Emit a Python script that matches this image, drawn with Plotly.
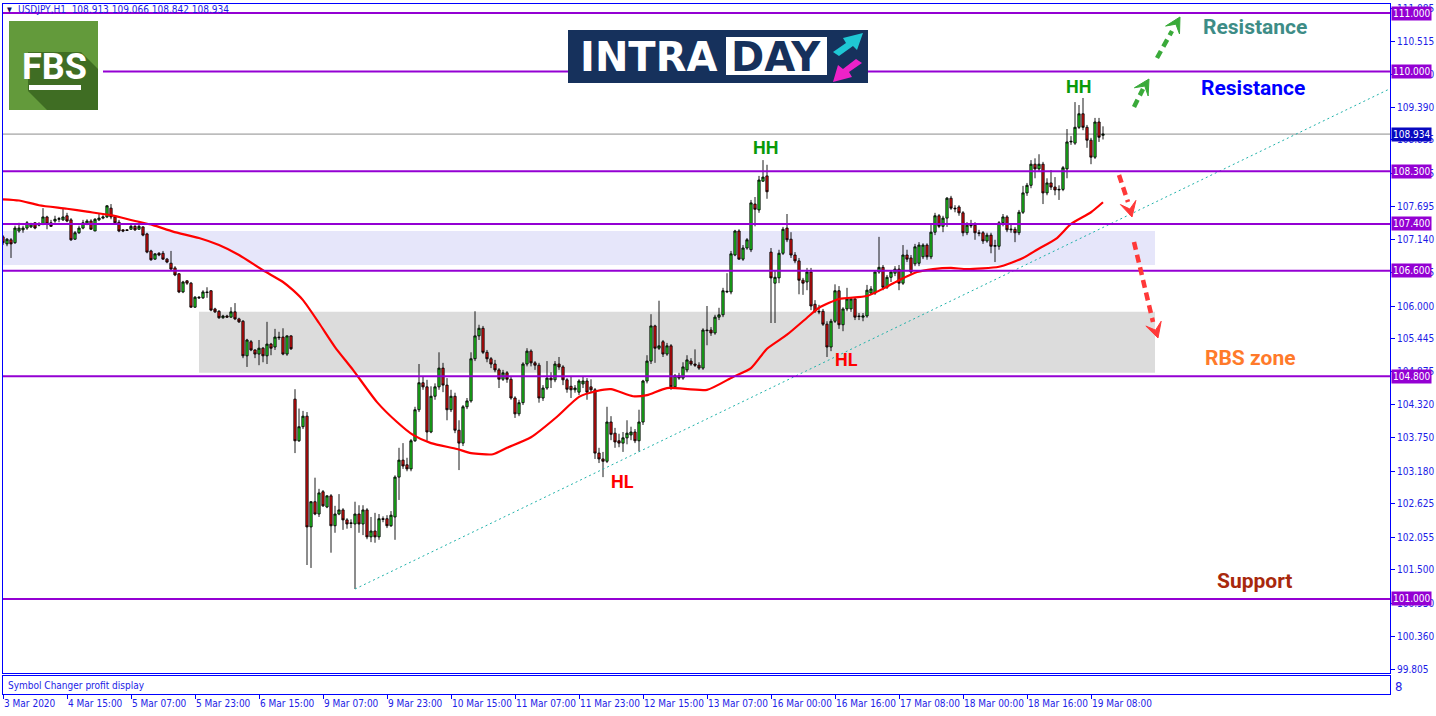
import plotly.graph_objects as go
from plotly.subplots import make_subplots

# ---------------- DATA ----------------
bar_index = list(range(276))
opens = [107.18,107.06,107.13,107.08,107.28,107.30,107.33,107.35,107.42,107.38,
107.40,107.52,107.42,107.45,107.48,107.47,107.54,107.47,107.14,107.25,
107.33,107.40,107.45,107.28,107.47,107.50,107.52,107.67,107.52,107.43,
107.30,107.30,107.31,107.36,107.31,107.35,107.23,106.94,106.80,106.90,
106.90,106.80,106.73,106.65,106.55,106.24,106.43,106.39,105.98,106.15,
106.14,106.24,106.26,105.95,105.91,105.80,105.83,105.81,105.90,105.78,
105.74,105.15,105.39,105.25,105.18,105.28,105.15,105.35,105.30,105.47,
105.47,105.18,105.49,104.41,103.70,103.94,104.12,102.23,102.66,102.45,
102.83,102.57,102.76,102.25,102.45,102.52,102.35,102.30,102.28,102.45,
102.28,102.52,102.06,102.16,102.06,102.37,102.37,102.25,102.40,103.08,
103.37,103.29,103.22,103.70,104.23,104.69,104.62,103.85,104.46,104.62,
104.94,104.65,104.23,104.46,103.88,103.66,104.28,104.38,105.10,105.49,
105.62,105.21,105.10,105.01,104.91,104.75,104.86,104.75,104.43,104.16,
104.35,105.01,105.23,105.03,104.99,104.43,104.60,104.77,104.74,105.01,
104.96,104.74,104.63,104.57,104.53,104.67,104.72,104.62,104.57,103.49,
103.39,103.35,104.02,103.83,103.70,103.66,103.75,103.80,103.85,103.70,
104.02,104.72,105.06,105.66,105.28,105.39,105.18,105.32,104.62,104.81,
104.77,104.91,105.06,105.01,104.99,104.94,105.59,105.59,105.54,105.81,
105.85,106.24,106.24,106.87,107.28,106.80,106.99,106.96,107.74,107.64,
108.13,108.22,106.92,106.39,106.48,106.90,107.33,107.14,106.87,106.77,
106.44,106.41,106.58,106.03,105.91,105.91,105.69,105.30,105.74,106.26,
105.68,105.95,105.95,106.12,105.83,105.81,105.83,106.22,106.22,106.58,
106.66,106.32,106.49,106.56,106.63,106.39,106.87,106.82,106.72,106.73,
106.84,107.04,106.84,107.26,107.54,107.36,107.50,107.84,107.67,107.69,
107.59,107.25,107.38,107.38,107.25,107.25,107.11,107.21,107.02,107.02,
107.42,107.52,107.30,107.31,107.25,107.60,107.93,108.06,108.42,108.34,
108.42,107.93,108.10,108.03,107.98,107.99,108.34,108.80,108.78,109.05,
109.28,109.05,108.83,108.54,109.14,108.913]
highs = [107.21,107.16,107.16,107.37,107.42,107.37,107.45,107.42,107.43,107.43,
107.67,107.54,107.47,107.54,107.52,107.66,107.59,107.50,107.28,107.37,
107.47,107.48,107.48,107.50,107.57,107.55,107.72,107.74,107.54,107.47,
107.31,107.31,107.40,107.38,107.43,107.36,107.25,106.96,106.90,106.92,
106.94,106.82,106.94,106.68,106.56,106.43,106.44,106.41,106.17,106.17,
106.27,106.32,106.27,105.97,105.93,105.85,105.85,105.98,106.05,105.80,
105.76,105.44,105.42,105.26,105.42,105.30,105.73,105.37,105.61,105.56,
105.62,105.50,105.50,104.58,104.25,104.21,104.19,102.67,103.07,102.88,
102.86,102.77,102.79,102.59,102.79,102.55,102.38,102.36,102.66,102.60,
102.60,102.55,102.40,102.47,102.45,102.41,102.43,102.50,103.11,103.58,
103.66,103.41,103.73,104.28,105.01,104.79,104.74,104.63,104.68,105.21,
105.03,104.77,104.57,104.52,104.05,104.31,104.43,105.21,105.91,105.68,
105.66,105.25,105.13,105.08,104.94,104.91,104.89,104.79,104.46,104.40,
105.04,105.28,105.26,105.06,105.03,104.65,105.06,104.87,105.06,105.13,
104.99,104.77,104.79,104.65,104.75,104.79,104.77,104.75,104.60,103.58,
103.51,104.28,104.12,103.92,103.82,103.85,104.05,103.94,103.90,104.23,
104.74,105.16,105.86,105.68,106.09,105.42,105.37,105.35,104.84,104.86,
105.04,105.16,105.11,105.26,105.04,105.62,106.00,105.64,105.85,105.97,
106.31,106.56,106.94,107.30,107.31,107.04,107.16,107.81,107.86,108.22,
108.49,108.41,106.99,106.61,106.96,107.35,107.57,107.26,106.92,106.82,
106.48,106.65,106.65,106.10,106.02,105.95,105.74,105.78,106.37,106.34,
105.98,106.31,106.15,106.15,105.88,105.88,106.36,106.34,106.61,107.18,
106.70,106.53,106.61,106.68,106.70,107.04,106.96,106.87,107.06,107.09,
107.07,107.07,107.40,107.59,107.57,107.54,107.86,107.88,107.72,107.72,
107.62,107.43,107.47,107.43,107.30,107.28,107.25,107.25,107.13,107.45,
107.57,107.55,107.40,107.35,107.64,108.05,108.10,108.49,108.52,108.59,
108.46,108.18,108.32,108.20,108.06,108.39,109.02,108.90,109.48,109.43,
109.55,109.09,108.87,109.21,109.21,109.066]
lows = [107.04,107.02,106.82,107.06,107.25,107.25,107.30,107.33,107.31,107.36,
107.38,107.31,107.35,107.42,107.43,107.45,107.43,107.11,107.13,107.23,
107.31,107.38,107.30,107.28,107.45,107.48,107.50,107.48,107.40,107.26,
107.26,107.28,107.30,107.28,107.30,107.19,106.90,106.77,106.79,106.85,
106.79,106.73,106.61,106.51,106.22,106.22,106.36,105.97,105.97,106.12,
106.12,106.14,105.91,105.88,105.78,105.78,105.80,105.80,105.76,105.71,
105.11,104.96,105.23,105.11,104.99,105.04,105.01,105.16,105.25,105.42,
105.16,105.15,105.25,103.49,103.68,103.90,101.58,101.53,102.43,102.40,
102.57,102.55,101.79,102.13,102.43,102.18,102.20,102.21,101.17,102.13,
102.09,102.02,101.97,101.96,102.01,102.31,102.21,102.23,102.01,102.69,
103.22,103.18,103.18,103.68,104.19,104.57,103.70,103.83,104.40,104.57,
104.53,104.05,104.19,103.83,103.20,103.61,104.24,104.35,105.06,105.42,
105.18,105.04,104.94,104.87,104.60,104.72,104.69,104.40,104.09,104.12,
104.31,104.97,104.97,104.91,104.35,104.38,104.57,104.60,104.70,104.91,
104.65,104.52,104.43,104.52,104.48,104.60,104.40,104.53,103.39,103.32,
103.08,103.32,103.71,103.58,103.59,103.51,103.64,103.71,103.66,103.52,
103.97,104.68,105.01,105.03,105.25,105.13,105.15,104.57,104.60,104.74,
104.74,104.87,104.98,104.96,104.91,104.91,105.33,105.49,105.51,105.76,
105.81,106.22,106.20,106.85,106.79,106.77,106.96,106.92,107.36,107.59,
108.12,107.83,105.71,105.71,106.39,106.87,107.09,106.82,106.73,106.20,
106.19,106.27,105.93,105.88,105.86,105.66,105.13,105.23,105.71,105.61,
105.57,105.91,105.90,105.76,105.76,105.74,105.80,106.19,106.19,106.55,
106.27,106.29,106.41,106.51,106.27,106.36,106.75,106.53,106.68,106.68,
106.80,106.79,106.80,107.21,107.33,107.26,107.35,107.64,107.60,107.54,
107.19,107.21,107.33,107.13,107.19,107.06,107.08,106.90,106.75,106.96,
107.36,107.26,107.25,107.09,107.21,107.57,107.88,108.01,108.18,108.29,
107.74,107.89,107.98,107.89,107.81,107.96,108.18,108.75,108.75,109.02,
109.00,108.70,108.42,108.51,108.80,108.842]
closes = [107.08,107.14,107.06,107.33,107.33,107.33,107.42,107.40,107.33,107.40,
107.52,107.40,107.36,107.48,107.49,107.52,107.45,107.13,107.25,107.33,
107.42,107.45,107.31,107.48,107.50,107.52,107.71,107.52,107.42,107.28,
107.28,107.29,107.36,107.30,107.36,107.21,106.92,106.79,106.89,106.87,
106.80,106.75,106.63,106.53,106.24,106.41,106.39,105.98,106.15,106.14,
106.24,106.23,105.93,105.90,105.80,105.83,105.81,105.90,105.78,105.73,
105.15,105.42,105.25,105.18,105.28,105.15,105.35,105.28,105.47,105.46,
105.18,105.49,105.27,103.70,103.94,104.12,102.23,102.66,102.45,102.81,
102.59,102.76,102.25,102.45,102.52,102.35,102.28,102.29,102.45,102.28,
102.52,102.06,102.16,102.06,102.37,102.36,102.25,102.43,103.08,103.37,
103.27,103.22,103.70,104.23,104.69,104.62,103.85,104.46,104.62,104.94,
104.65,104.23,104.46,103.88,103.66,104.28,104.38,105.10,105.49,105.62,
105.21,105.10,105.01,104.91,104.75,104.86,104.75,104.43,104.16,104.35,
105.01,105.23,105.03,104.99,104.43,104.60,104.77,104.74,105.01,104.96,
104.74,104.58,104.57,104.60,104.72,104.72,104.53,104.57,103.49,103.39,
103.35,104.02,103.81,103.68,103.66,103.75,103.83,103.85,103.70,104.02,
104.72,105.06,105.66,105.28,105.32,105.18,105.32,104.62,104.81,104.77,
104.96,105.08,105.01,104.99,104.94,105.59,105.58,105.54,105.81,105.85,
106.26,106.25,106.89,107.28,106.80,106.99,107.13,107.76,107.65,108.15,
108.20,107.95,106.48,106.49,106.90,107.31,107.13,106.87,106.77,106.44,
106.39,106.58,106.00,105.91,105.90,105.69,105.30,105.74,106.26,105.68,
105.95,106.12,106.12,105.81,105.82,105.83,106.27,106.29,106.58,106.66,
106.32,106.49,106.58,106.63,106.39,106.87,106.80,106.58,107.01,107.04,
107.04,106.84,107.26,107.54,107.36,107.50,107.84,107.67,107.66,107.59,
107.25,107.38,107.37,107.25,107.24,107.11,107.21,107.02,107.03,107.42,
107.52,107.30,107.31,107.25,107.60,107.93,108.06,108.42,108.34,108.42,
107.93,108.10,108.03,107.98,107.99,108.36,108.80,108.81,109.05,109.28,
109.05,108.83,108.54,109.14,108.88,108.934]

# moving average (bar index, price)
ma_x = [0,4,9,16,21,27,32.5,37.5,42.5,49,54,59,65,70,72.5,75,79,83,87.5,93.5,98.5,
        102.5,107,113.5,117,122.5,126,132,138.5,144,148.5,152,157.5,161,166,176,
        182.5,187,191,196,201,204,209,216,221,224,228.5,232.5,237,241,249,255,
        258.5,263.5,267,272,275]
ma_y = [107.82,107.80,107.72,107.66,107.61,107.55,107.46,107.38,107.27,107.16,
        107.04,106.87,106.61,106.41,106.27,106.10,105.71,105.30,104.91,104.36,104.02,
        103.80,103.66,103.56,103.49,103.47,103.58,103.76,104.11,104.45,104.55,
        104.58,104.46,104.48,104.60,104.57,104.79,104.94,105.27,105.51,105.80,
        105.97,106.12,106.17,106.33,106.44,106.58,106.63,106.65,106.63,106.67,
        106.82,106.96,107.16,107.40,107.60,107.77]

# trend line (bar index, price)
trend_x = [88, 346.5]
trend_y = [101.17, 109.70]

# horizontal levels
level_prices = [111.0, 110.0, 108.3, 107.4, 106.6, 104.8, 101.0]
level_start = [0, 25, 0, 0, 0, 0, 0]
current_price = 108.934

# zones: (x0, x1, y0, y1)
zone_lav = (0, 288, 106.70, 107.28)
zone_gray = (49, 288, 104.86, 105.90)

# axis ticks
price_ticks = [111.085, 110.515, 109.950, 109.390, 108.835, 108.265, 107.695, 107.140,
               106.575, 106.000, 105.445, 104.875, 104.320, 103.750, 103.180, 102.625,
               102.055, 101.500, 100.930, 100.360, 99.805]
time_tick_idx = [0,16,32,48,64,80,96,112,128,144,160,176,192,208,224,240,256,272]
time_tick_text = ["3 Mar 2020","4 Mar 15:00","5 Mar 07:00","5 Mar 23:00","6 Mar 15:00",
                  "9 Mar 07:00","9 Mar 23:00","10 Mar 15:00","11 Mar 07:00","11 Mar 23:00",
                  "12 Mar 15:00","13 Mar 07:00","16 Mar 00:00","16 Mar 16:00","17 Mar 08:00",
                  "18 Mar 00:00","18 Mar 16:00","19 Mar 08:00"]

# ---------------- STYLE ----------------
W, H = 1436, 716
ML, MR, MT, MB = 3, 46, 4, 22
PW, PH = W - ML - MR, H - MT - MB
BLUE = "#0000ff"
TXT = "#1c1ce6"
PURPLE = "#9400d3"
AXFONT = "DejaVu Sans Condensed, Liberation Sans, sans-serif"
LBLFONT = "Roboto, Liberation Sans, sans-serif"


def px(x):
    return (x - ML) / PW


def py(y):
    return (H - MB - y) / PH


fig = make_subplots(rows=2, cols=1, shared_xaxes=True, vertical_spacing=0.0)

fig.add_trace(go.Candlestick(
    x=bar_index, open=opens, high=highs, low=lows, close=closes,
    increasing=dict(fillcolor="#22e022", line=dict(color="black", width=0.9)),
    decreasing=dict(fillcolor="#e81010", line=dict(color="black", width=0.9)),
    whiskerwidth=0, hoverinfo="skip", showlegend=False), row=1, col=1)

fig.add_trace(go.Scatter(x=ma_x, y=ma_y, mode="lines",
                         line=dict(color="#ff0000", width=2.2, shape="spline", smoothing=0.6),
                         hoverinfo="skip", showlegend=False), row=1, col=1)
fig.add_trace(go.Scatter(x=trend_x, y=trend_y, mode="lines",
                         line=dict(color="#20b2aa", width=1, dash="2px,3px"),
                         hoverinfo="skip", showlegend=False), row=1, col=1)
fig.add_trace(go.Scatter(x=[0], y=[0.5], mode="markers", marker=dict(opacity=0),
                         hoverinfo="skip", showlegend=False), row=2, col=1)

shapes = []
# zones
for (x0, x1, y0, y1), col in [(zone_lav, "#e6e6fa"), (zone_gray, "#dcdcdc")]:
    shapes.append(dict(type="rect", xref="x", yref="y", x0=x0, x1=x1, y0=y0, y1=y1,
                       fillcolor=col, line=dict(width=0), layer="below"))
# current price line
shapes.append(dict(type="line", xref="x domain", yref="y", x0=0, x1=1, y0=current_price,
                   y1=current_price, line=dict(color="#8c8c8c", width=1), layer="below"))
# levels
for p, s in zip(level_prices, level_start):
    shapes.append(dict(type="line", xref="x", yref="y", x0=s, x1=346.75, y0=p, y1=p,
                       line=dict(color=PURPLE, width=2), layer="above"))


def P(pts):
    return "M " + " L ".join(f"{px(a):.5f},{py(b):.5f}" for a, b in pts) + " Z"


def dashed_arrow(p0, p1, tip, color, width=4.5, L=15, Wd=8):
    shapes.append(dict(type="line", xref="paper", yref="paper", x0=px(p0[0]), y0=py(p0[1]),
                       x1=px(p1[0]), y1=py(p1[1]),
                       line=dict(color=color, width=width, dash="8px,5px")))
    dx, dy = tip[0] - p1[0], tip[1] - p1[1]
    n = (dx * dx + dy * dy) ** 0.5
    ux, uy = dx / n, dy / n
    nx, ny = -uy, ux
    bx, by = tip[0] - L * ux, tip[1] - L * uy
    nxp = tip[0] - 0.55 * L * ux
    nyp = tip[1] - 0.55 * L * uy
    pts = [tip, (bx + Wd * nx, by + Wd * ny), (nxp, nyp), (bx - Wd * nx, by - Wd * ny)]
    shapes.append(dict(type="path", xref="paper", yref="paper", path=P(pts),
                       fillcolor=color, line=dict(color=color, width=1)))


dashed_arrow((1134, 107), (1143, 89), (1149, 79), "#3aaa3a")
dashed_arrow((1157, 58), (1172, 31), (1180, 17), "#3aaa3a")
dashed_arrow((1119, 175), (1128, 202), (1132, 217), "#ff3838")
dashed_arrow((1134, 242), (1153, 322), (1158, 338), "#ff3838")

# FBS logo
shapes.append(dict(type="rect", xref="paper", yref="paper", x0=px(9), x1=px(98), y0=py(110),
                   y1=py(21), fillcolor="#639a3b", line=dict(width=0)))
shapes.append(dict(type="path", xref="paper", yref="paper",
                   path=P([(28, 52), (81, 52), (98, 69), (98, 110), (47, 110), (28, 91)]),
                   fillcolor="#3f6d23", line=dict(width=0)))
shapes.append(dict(type="rect", xref="paper", yref="paper", x0=px(29), x1=px(81), y0=py(90),
                   y1=py(85), fillcolor="white", line=dict(width=0)))
# INTRADAY logo
shapes.append(dict(type="rect", xref="paper", yref="paper", x0=px(568), x1=px(868), y0=py(83),
                   y1=py(30), fillcolor="#16315c", line=dict(width=0)))
shapes.append(dict(type="rect", xref="paper", yref="paper", x0=px(726), x1=px(827), y0=py(75),
                   y1=py(37), fillcolor="white", line=dict(width=0)))
shapes.append(dict(type="path", xref="paper", yref="paper",
                   path=P([(833, 52), (846, 43), (843, 38), (863, 33), (857, 50), (853, 46), (839, 56)]),
                   fillcolor="#1fc7d4", line=dict(width=0)))
shapes.append(dict(type="path", xref="paper", yref="paper",
                   path=P([(862, 63), (849, 72), (852, 77), (833, 82), (838, 65), (843, 69), (856, 59)]),
                   fillcolor="#ee22c8", line=dict(width=0)))

annotations = []
# purple level labels on axis
for p in level_prices:
    annotations.append(dict(x=1, xref="paper", xanchor="left", xshift=1, y=p, yref="y",
                            yanchor="middle", text=f"{p:.3f}", showarrow=False,
                            bgcolor=PURPLE, borderpad=1,
                            font=dict(color="white", size=10, family=AXFONT)))
annotations.append(dict(x=1, xref="paper", xanchor="left", xshift=1, y=current_price, yref="y",
                        yanchor="middle", text=f"{current_price:.3f}", showarrow=False,
                        bgcolor="#0808c0", borderpad=1,
                        font=dict(color="white", size=10, family=AXFONT)))


# chart labels
def lbl(x, y, text, color, size, family=LBLFONT):
    annotations.append(dict(x=x, y=y, xref="x", yref="y", text=text, showarrow=False,
                            xanchor="center", yanchor="middle",
                            font=dict(color=color, size=size, family=family, weight="bold")))


lbl(190.5, 108.71, "HH", "#0a9a0a", 18)
lbl(268.75, 109.74, "HH", "#0a9a0a", 18)
lbl(154.75, 103.01, "HL", "#ff0000", 18)
lbl(210.75, 105.08, "HL", "#ff0000", 18)
lbl(313.0, 110.76, "Resistance", "#3d8c86", 21)
lbl(312.5, 109.72, "Resistance", "#0000ff", 21)
lbl(311.75, 105.11, "RBS zone", "#ff7a2a", 21)
lbl(312.75, 101.31, "Support", "#a8280c", 21)


def ptext(x, y, text, color, size, family, xanchor="left", weight="normal"):
    annotations.append(dict(x=px(x), y=py(y), xref="paper", yref="paper", xanchor=xanchor,
                            yanchor="middle", text=text, showarrow=False,
                            font=dict(color=color, size=size, family=family, weight=weight)))


# header / sub-window texts
ptext(5, 10, "▼", "#101060", 7, AXFONT)
ptext(16, 10, "USDJPY,H1  108.913 109.066 108.842 108.934", TXT, 10, AXFONT)
ptext(6, 685, "Symbol Changer profit display", TXT, 10, AXFONT)
ptext(1393, 686, "8", TXT, 13, AXFONT)
# logo texts
ptext(54, 67, "FBS", "white", 36, "Roboto, sans-serif", "center", "bold")
ptext(648, 57, "INTRA", "white", 40, "DejaVu Sans, sans-serif", "center", "bold")
ptext(776, 57, "DAY", "#16315c", 40, "DejaVu Sans, sans-serif", "center", "bold")

axis_common = dict(showgrid=False, zeroline=False, showline=True, mirror=True,
                   linecolor=BLUE, linewidth=1)

fig.update_layout(
    width=W, height=H, autosize=False,
    margin=dict(l=ML, r=MR, t=MT, b=MB, pad=0, autoexpand=False),
    paper_bgcolor="white", plot_bgcolor="white",
    showlegend=False, boxgap=0.2, hovermode=False,
    shapes=shapes, annotations=annotations,
    xaxis=dict(**axis_common, range=[0, 346.75], showticklabels=False, ticks="",
               rangeslider=dict(visible=False), domain=[0, 1]),
    xaxis2=dict(**axis_common, range=[0, 346.75], ticks="outside", ticklen=4,
                tickcolor=BLUE, tickvals=time_tick_idx, ticktext=time_tick_text,
                ticklabelposition="outside right", tickangle=0,
                tickfont=dict(color=TXT, size=10, family=AXFONT),
                rangeslider=dict(visible=False), domain=[0, 1]),
    yaxis=dict(**axis_common, domain=[21 / PH, 1], range=[99.737, 111.154], side="right",
               ticks="outside", ticklen=4, tickcolor=BLUE, tickvals=price_ticks,
               ticktext=[f"{v:.3f}" for v in price_ticks],
               tickfont=dict(color=TXT, size=10, family=AXFONT), automargin=False),
    yaxis2=dict(**axis_common, domain=[0, 18 / PH], range=[0, 1], side="right",
                showticklabels=False, ticks="", automargin=False),
)
fig.update_xaxes(automargin=False)

fig.write_html("out.html", config={"displayModeBar": False},
               post_script="document.body.style.margin='0';document.body.style.overflow='hidden';")
